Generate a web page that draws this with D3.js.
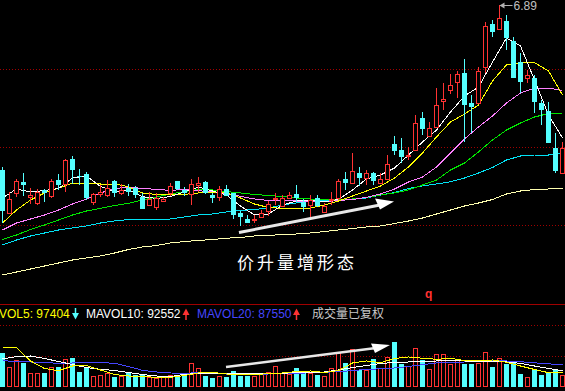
<!DOCTYPE html>
<html><head><meta charset="utf-8">
<script src="https://cdn.jsdelivr.net/npm/d3@7/dist/d3.min.js"></script>
<style>html,body{margin:0;padding:0;background:#000;overflow:hidden}</style>
</head><body>
<svg id="c" width="565" height="391"></svg>
<script>
// ---- DATA (daily candles, index 0..80) ----
const open = [5.24,4.81,5.01,5.12,4.975,4.913,5.04,4.985,5.14,5.097,
5.35,5.18,5.20,4.923,5.00,4.99,5.13,5.015,5.065,5.06,
4.97,4.89,4.873,4.933,5.013,5.13,5.045,5.00,5.09,5.12,
4.99,4.975,5.05,5.007,4.815,4.75,4.74,4.775,4.83,4.95,
4.883,4.96,5.00,4.925,4.89,4.96,4.825,4.94,4.963,5.15,
5.115,5.215,5.16,5.215,5.107,5.15,5.50,5.44,5.38,5.44,
5.763,5.58,5.673,5.927,6.04,6.123,6.213,5.913,5.907,6.273,
6.70,6.647,6.733,6.533,6.323,6.163,6.163,5.913,5.83,5.463,
5.213];
const high = [5.27,5.02,5.15,5.21,5.06,5.055,5.05,5.15,5.20,5.35,
5.383,5.25,5.225,5.015,5.09,5.14,5.14,5.105,5.105,5.08,
5.01,5.023,5.01,4.97,5.107,5.13,5.07,5.15,5.17,5.13,
5.013,5.08,5.09,5.01,4.835,4.79,4.79,4.84,4.93,5.01,
4.99,5.023,5.09,4.95,4.99,4.99,4.91,5.023,5.15,5.22,
5.41,5.27,5.24,5.22,5.207,5.39,5.58,5.56,5.473,5.79,
5.823,5.717,6.057,6.107,6.20,6.23,6.347,5.99,6.273,6.723,
6.74,6.89,6.79,6.567,6.407,6.24,6.19,5.94,5.923,5.607,
5.523];
const low = [4.71,4.81,4.97,4.98,4.90,4.89,4.92,4.96,5.04,5.02,
5.10,5.09,4.94,4.89,4.97,4.97,4.97,4.99,4.98,4.96,
4.85,4.89,4.84,4.93,4.98,5.04,4.98,4.89,5.023,5.00,
4.91,4.93,4.98,4.75,4.68,4.71,4.71,4.76,4.78,4.89,
4.88,4.95,4.92,4.82,4.77,4.87,4.82,4.89,4.94,5.04,
5.11,5.08,5.09,5.09,5.10,5.15,5.39,5.31,5.34,5.44,
5.59,5.58,5.673,5.84,5.997,5.957,5.523,5.607,5.907,6.213,
6.573,6.647,6.44,6.16,6.007,6.107,5.807,5.69,5.513,5.207,
5.213];
const close = [4.83,4.95,5.13,5.09,4.99,5.025,5.01,5.13,5.09,5.34,
5.24,5.17,4.96,4.997,5.023,5.06,5.01,5.045,5.025,4.995,
4.85,4.955,4.957,4.953,5.077,5.05,5.015,5.10,5.113,5.007,
4.96,5.05,4.985,4.79,4.77,4.713,4.755,4.815,4.90,4.96,
4.963,4.99,4.96,4.865,4.94,4.88,4.88,4.95,5.13,5.107,
5.23,5.16,5.207,5.135,5.15,5.30,5.433,5.373,5.39,5.707,
5.65,5.657,5.887,5.95,6.087,6.20,5.89,5.873,6.23,6.68,
6.62,6.757,6.557,6.163,6.123,6.19,5.923,5.84,5.513,5.23,
5.463];
const volume = [171500,100000,135000,121500,71500,71500,71500,100000,101500,140000,
145000,76500,96500,55000,60000,68500,51500,55000,76500,60000,
63500,51500,46500,55000,60000,51500,55000,121500,93500,55000,
43500,55000,51500,80000,55000,55000,55000,63500,76500,105000,
68500,63500,96500,68500,68500,60000,55000,93500,171500,121500,
188500,85000,85000,140000,96500,150000,226500,115000,105000,193500,
135000,88500,163500,163500,115000,135000,115000,115000,121500,173500,
100000,143500,115000,121500,65000,48500,85000,60000,68500,90000,
60000];

// moving averages, read at every second day (0,2,...,80)
const maDays = [0,2,4,6,8,10,12,14,16,18,20,22,24,26,28,30,32,34,36,38,40,
42,44,46,48,50,52,54,56,58,60,62,64,66,68,70,72,74,76,78,80];
const ma5 = [4.96,5.05,5.02,5.035,5.055,5.16,5.18,5.075,5.025,5.04,
4.973,4.955,4.975,5.02,5.07,5.03,4.99,4.88,4.79,4.80,
4.89,4.93,4.933,4.923,4.945,5.04,5.15,5.19,5.26,5.39,
5.52,5.64,5.82,5.98,6.07,6.32,6.56,6.48,6.14,5.79,
5.56];
const ma10 = [4.71,4.84,4.94,5.01,5.06,5.107,5.11,5.10,5.10,5.073,
5.01,4.995,4.997,4.997,5.01,5.015,5.015,4.96,4.90,4.865,
4.857,4.855,4.86,4.89,4.93,4.98,5.03,5.08,5.16,5.27,
5.41,5.57,5.72,5.80,5.89,6.13,6.29,6.313,6.313,6.23,
5.99];
const ma20 = [4.64,4.71,4.75,4.79,4.84,4.90,4.95,5.01,5.055,5.067,
5.057,5.045,5.037,5.045,5.033,5.02,5.00,4.977,4.95,4.935,
4.935,4.93,4.927,4.923,4.935,4.945,4.967,5.00,5.05,5.12,
5.17,5.27,5.41,5.55,5.67,5.78,5.91,6.01,6.06,6.06,
6.035];
const ma30 = [4.545,4.59,4.645,4.69,4.74,4.79,4.83,4.857,4.885,4.907,
4.94,4.97,5.00,5.025,5.045,5.04,5.025,5.01,4.995,4.985,
4.975,4.96,4.95,4.945,4.945,4.95,4.965,4.99,5.01,5.04,
5.09,5.14,5.24,5.31,5.42,5.54,5.64,5.71,5.77,5.805,
5.807];
const ma60 = [4.49,4.54,4.58,4.61,4.64,4.66,4.68,4.71,4.73,4.745,
4.74,4.743,4.75,4.77,4.79,4.80,4.82,4.835,4.845,4.86,
4.89,4.91,4.93,4.935,4.94,4.947,4.96,4.99,5.015,5.055,
5.08,5.10,5.123,5.16,5.21,5.265,5.34,5.38,5.39,5.39,
5.405];
const ma120 = [4.19,4.22,4.25,4.28,4.31,4.34,4.36,4.38,4.41,4.445,
4.47,4.485,4.51,4.525,4.535,4.545,4.558,4.565,4.58,4.585,
4.595,4.60,4.61,4.625,4.64,4.655,4.67,4.68,4.705,4.73,
4.76,4.80,4.84,4.88,4.91,4.945,5.00,5.03,5.045,5.05,
5.057];
const mavol5 = [196500,196500,130000,92500,81500,105000,107500,85000,62500,55000,
52500,48500,48500,57500,70000,73500,65000,63500,63500,66000,
70000,77500,80000,72500,82500,120000,130000,121500,142500,150000,
144000,138500,143500,132500,130000,135000,123500,105000,87500,71500,
71500];
const mavol10 = [140000,152500,155000,142500,127500,112500,97500,88500,82500,72500,
62500,55000,51500,63500,67500,68500,68500,68500,68500,67500,
68500,72500,73500,75000,85000,97500,107500,117500,122500,125000,
127500,130000,131000,130000,126500,126500,125000,118500,105000,92500,
81500];
const mavol20 = [131500,127500,125000,122500,118500,120000,121500,121500,119000,102500,
83500,75000,70000,69000,71000,67500,65000,65000,63500,65000,
68500,68500,71000,74000,76500,82500,87500,91000,95000,102500,
111500,120000,122500,125000,131000,131500,130000,126500,121000,116000,
110000];
const gridPrices = [6.25, 5.47, 4.69];
const gridVolumes = [310000, 155000];
const highLabel = "6.89";
const legendItems = [
  {text: "VOL5: 97404", color: "#ffff00", arrow: "down", arrowColor: "#54ffff"},
  {text: "MAVOL10: 92552", color: "#ffffff", arrow: "up", arrowColor: "#ff3232"},
  {text: "MAVOL20: 87550", color: "#4646ff", arrow: "up", arrowColor: "#ff3232"}
];
const legendNote = "成交量已复权";
const patternLabel = "价升量增形态";

// ---- DRAW ----
const W = 565, H = 391;
const UP = "#ff3232", DOWN = "#54ffff";
const svg = d3.select("#c");
svg.append("rect").attr("width", W).attr("height", H).attr("fill", "#000");

const days = d3.range(open.length);
const x = d3.scaleLinear().domain([0, 80]).range([2.5, 562.5]);
const y = d3.scaleLinear().domain([4.0, 6.94]).range([294, 0]);
const yv = d3.scaleLinear().domain([0, 400000]).range([387, 307]);

// grid
const grid = svg.append("g").attr("shape-rendering", "crispEdges");
grid.selectAll("line.gp").data(gridPrices).join("line")
  .attr("x1", 0).attr("x2", W)
  .attr("y1", d => Math.round(y(d)) + 0.5).attr("y2", d => Math.round(y(d)) + 0.5)
  .attr("stroke", "#a00000").attr("stroke-dasharray", "1,2");
grid.selectAll("line.gv").data(gridVolumes).join("line")
  .attr("x1", 0).attr("x2", W)
  .attr("y1", d => Math.round(yv(d)) + 0.5).attr("y2", d => Math.round(yv(d)) + 0.5)
  .attr("stroke", "#a00000").attr("stroke-dasharray", "1,2");
svg.append("line").attr("x1", 0).attr("x2", W).attr("y1", 304.5).attr("y2", 304.5)
  .attr("stroke", "#a00000").attr("shape-rendering", "crispEdges");

// moving average lines (price)
const maPts = arr => maDays.map((d, k) => [d, arr[k]]);
const pline = d3.line().x(d => x(d[0])).y(d => y(d[1]));
const maDefs = [
  [ma120, "#ffffb0"], [ma60, "#02e2f4"], [ma30, "#00e600"],
  [ma20, "#ff80ff"], [ma10, "#ffff00"], [ma5, "#ffffff"]
];
const maG = svg.append("g");
maDefs.forEach(([arr, col]) => {
  maG.append("path").attr("d", pline(maPts(arr))).attr("fill", "none")
    .attr("stroke", col).attr("stroke-width", 1).attr("shape-rendering", "crispEdges");
});

// candles
const cg = svg.append("g").attr("shape-rendering", "crispEdges");
days.forEach(i => {
  const xc = x(i);
  const up = close[i] > open[i];
  const t = Math.round(y(Math.max(open[i], close[i])));
  const b = Math.round(y(Math.min(open[i], close[i])));
  const hy = Math.round(y(high[i])), ly = Math.round(y(low[i]));
  if (up) {
    if (hy < t) cg.append("line").attr("x1", xc).attr("x2", xc).attr("y1", hy).attr("y2", t).attr("stroke", UP);
    if (ly > b) cg.append("line").attr("x1", xc).attr("x2", xc).attr("y1", b + 1).attr("y2", ly).attr("stroke", UP);
    cg.append("rect").attr("x", xc - 2).attr("y", t + 0.5).attr("width", 4).attr("height", Math.max(b - t, 1))
      .attr("fill", "#000").attr("stroke", UP);
  } else {
    cg.append("line").attr("x1", xc).attr("x2", xc).attr("y1", hy).attr("y2", ly).attr("stroke", DOWN);
    cg.append("rect").attr("x", xc - 2.5).attr("y", t).attr("width", 5).attr("height", Math.max(b - t, 1))
      .attr("fill", DOWN);
  }
});

// high label
const hx = x(71), hyp = Math.round(y(6.89)) + 0.5;
svg.append("line").attr("x1", hx + 1).attr("x2", hx + 13).attr("y1", hyp).attr("y2", hyp).attr("stroke", "#b0b0b0");
svg.append("path").attr("d", `M${hx},${hyp} L${hx + 5},${hyp - 3} L${hx + 5},${hyp + 3} Z`).attr("fill", "#b0b0b0");
svg.append("text").attr("x", hx + 14).attr("y", 10).text(highLabel)
  .attr("fill", "#c0c0c0").attr("font-family", "Liberation Sans, Arial, sans-serif").attr("font-size", 12);

// pattern arrow (price panel)
svg.append("line").attr("x1", 239).attr("y1", 232.5).attr("x2", 380).attr("y2", 205)
  .attr("stroke", "#e8e8e8").attr("stroke-width", 3);
svg.append("path").attr("d", "M394,201.5 L375,198.5 L380,209.5 Z").attr("fill", "#ffffff");
svg.append("text").attr("x", 237).attr("y", 269).text(patternLabel)
  .attr("fill", "#ffffff").attr("font-family", "Noto Sans CJK SC, sans-serif")
  .attr("font-size", 17).attr("letter-spacing", 3);

// red q marker
svg.append("text").attr("x", 425).attr("y", 298).text("q")
  .attr("fill", "#ff3232").attr("font-family", "Liberation Sans, Arial, sans-serif")
  .attr("font-size", 12).attr("font-weight", "bold");

// volume bars
const vg = svg.append("g").attr("shape-rendering", "crispEdges");
days.forEach(i => {
  const xc = x(i);
  const up = close[i] > open[i];
  const t = Math.round(yv(volume[i]));
  if (up) {
    vg.append("rect").attr("x", xc - 2).attr("y", t + 0.5).attr("width", 4).attr("height", 386 - t)
      .attr("fill", "#000").attr("stroke", UP);
  } else {
    vg.append("rect").attr("x", xc - 2.5).attr("y", t).attr("width", 5).attr("height", 387 - t).attr("fill", DOWN);
  }
});

// volume MAs
const vline = d3.line().x(d => x(d[0])).y(d => yv(d[1]));
[[mavol20, "#4646ff"], [mavol10, "#ffffff"], [mavol5, "#ffff00"]].forEach(([arr, col]) => {
  svg.append("path").attr("d", vline(maPts(arr))).attr("fill", "none")
    .attr("stroke", col).attr("stroke-width", 1).attr("shape-rendering", "crispEdges");
});

// volume arrow
svg.append("line").attr("x1", 226).attr("y1", 367).attr("x2", 376).attr("y2", 348)
  .attr("stroke", "#e8e8e8").attr("stroke-width", 2.5);
svg.append("path").attr("d", "M390,345 L371,343.5 L375,353 Z").attr("fill", "#ffffff");

// legend
const lg = svg.append("g").attr("font-family", "Liberation Sans, Arial, sans-serif").attr("font-size", 12);
const legendX = [-1, 86, 197];
const arrowX = [75.5, 186, 296.5];
legendItems.forEach((it, k) => {
  lg.append("text").attr("x", legendX[k]).attr("y", 318).text(it.text).attr("fill", it.color);
  const ax = arrowX[k];
  if (it.arrow === "down") {
    lg.append("line").attr("x1", ax).attr("x2", ax).attr("y1", 308).attr("y2", 316).attr("stroke", it.arrowColor).attr("stroke-width", 1.5);
    lg.append("path").attr("d", `M${ax - 3.5},${313} L${ax + 3.5},${313} L${ax},${319.5} Z`).attr("fill", it.arrowColor);
  } else {
    lg.append("line").attr("x1", ax).attr("x2", ax).attr("y1", 312).attr("y2", 320).attr("stroke", it.arrowColor).attr("stroke-width", 1.5);
    lg.append("path").attr("d", `M${ax - 3.5},${315} L${ax + 3.5},${315} L${ax},${308.5} Z`).attr("fill", it.arrowColor);
  }
});
lg.append("text").attr("x", 312).attr("y", 318).text(legendNote).attr("fill", "#c8c8c8")
  .attr("font-family", "Noto Sans CJK SC, sans-serif");
</script>
</body></html>
